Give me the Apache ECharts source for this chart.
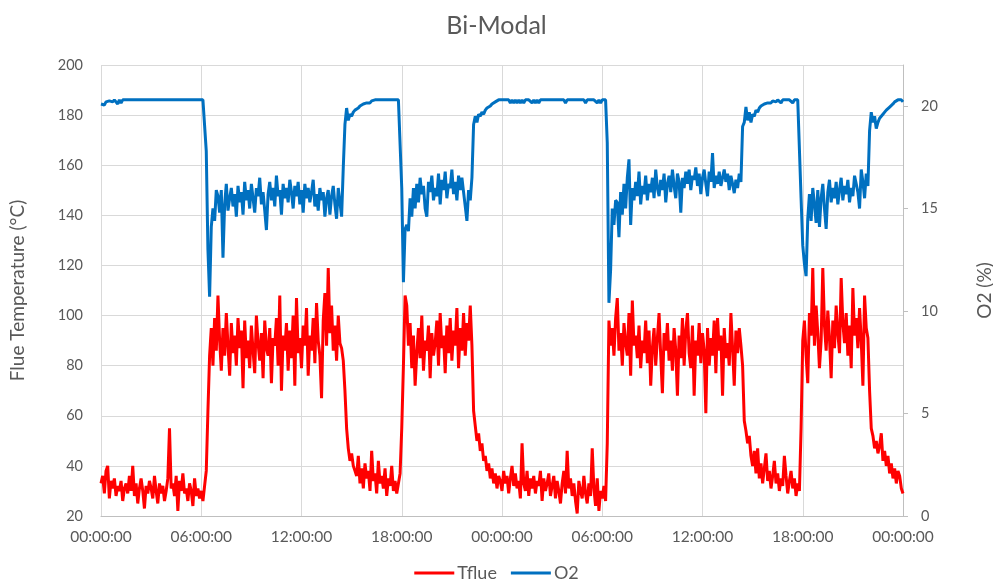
<!DOCTYPE html>
<html>
<head>
<meta charset="utf-8">
<title>Bi-Modal</title>
<script src="https://cdn.jsdelivr.net/npm/echarts@6/dist/echarts.min.js"></script>
<style>
  html, body { margin: 0; padding: 0; background: #ffffff; overflow: hidden; }
  #chart { width: 993px; height: 587px; }
</style>
</head>
<body>
<div id="chart"></div>
<script>
// Sampling interval of the logger, in hours (6 minutes)
const sampleStepHours = 0.1;

// Bottom axis labels, one per 6-hour gridline
const timeLabels = ['00:00:00', '06:00:00', '12:00:00', '18:00:00', '00:00:00',
                    '06:00:00', '12:00:00', '18:00:00', '00:00:00'];

// Flue gas temperature (°C), one reading per sample
const tflue = [
  33,36,29,38,40,27,34,31,35,28,
  32,30,34,26,31,33,29,36,30,40,
  28,33,25,31,35,30,23,32,29,34,
  31,27,36,30,25,33,29,32,26,30,
  35,55,31,33,28,36,22,34,30,37,
  29,31,26,33,30,24,35,28,31,27,
  30,26,32,38,62,84,95,80,99,86,
  108,90,78,95,84,101,88,76,97,85,
  92,80,99,87,94,71,98,83,90,79,
  96,86,77,100,89,82,93,75,98,87,
  84,95,73,91,88,99,80,108,70,92,
  86,97,78,94,83,100,72,107,85,91,
  79,96,88,103,76,92,86,99,81,105,
  90,84,67,98,109,88,119,93,104,86,
  96,82,100,89,87,82,70,55,47,42,
  45,40,38,36,44,33,39,31,41,35,
  38,30,46,34,37,29,42,33,36,31,
  39,28,35,32,40,30,34,29,33,37,
  55,80,108,104,88,97,79,92,72,85,
  95,83,100,78,90,86,96,75,93,84,
  89,98,80,101,87,92,77,96,85,99,
  82,94,88,103,79,95,86,101,84,97,
  90,104,88,62,56,50,53,46,49,42,
  44,38,41,35,39,33,37,31,36,34,
  30,38,33,36,29,35,40,32,37,31,
  34,27,49,33,30,38,28,35,31,36,
  29,34,32,38,26,35,30,33,37,28,
  32,36,27,34,30,25,33,38,29,46,
  31,35,28,33,26,21,34,30,27,36,
  29,25,33,28,47,31,24,35,22,30,
  27,32,26,49,98,88,95,84,99,107,
  86,93,80,97,89,84,101,76,106,88,
  92,83,96,79,90,85,98,81,94,72,
  87,95,80,91,101,84,69,93,86,97,
  82,90,78,95,86,68,92,83,99,80,
  94,101,85,79,96,68,90,84,97,81,
  93,86,61,95,80,91,84,98,77,99,
  86,92,68,95,83,89,80,101,87,72,
  94,85,95,88,80,58,54,49,52,44,
  40,46,37,47,35,41,33,39,45,34,
  38,31,36,42,33,37,30,35,32,44,
  36,29,34,38,31,35,28,33,30,55,
  90,98,84,73,101,92,119,88,104,93,
  79,90,119,96,86,102,91,75,98,87,
  104,93,85,115,97,89,101,84,96,79,
  111,92,99,87,103,90,72,108,95,91,
  70,55,52,47,50,45,48,53,42,46,
  40,44,37,41,35,39,33,38,36,31,
  29
];

// Flue gas oxygen (%), same samples
const o2 = [
  20.1,20.15,20.05,20.2,20.15,20.25,20.3,20.2,20.3,20.3,
  20.1,20.3,20.15,20.3,20.3,20.3,20.3,20.3,20.3,20.3,
  20.3,20.3,20.3,20.3,20.3,20.3,20.3,20.3,20.3,20.3,
  20.3,20.3,20.3,20.3,20.3,20.3,20.3,20.3,20.3,20.3,
  20.3,20.3,20.3,20.3,20.3,20.3,20.3,20.3,20.3,20.3,
  20.3,20.3,20.3,20.3,20.3,20.3,20.3,20.3,20.3,20.3,
  20.3,20.3,20.3,17.8,13.0,10.7,14.1,15.0,14.4,15.9,
  15.6,14.8,15.9,12.6,15.2,16.2,14.9,15.5,16.0,15.1,
  15.7,14.6,16.1,15.3,15.8,14.7,16.3,15.4,15.9,15.0,
  16.2,15.5,14.8,16.0,15.6,16.5,15.2,15.8,14.9,13.95,
  15.7,16.3,15.4,16.0,15.1,16.6,15.6,15.9,14.7,16.2,
  15.5,16.0,15.3,16.4,15.8,15.0,16.1,15.6,16.3,15.2,
  15.9,14.8,16.2,15.5,16.0,15.3,15.8,16.4,15.1,15.7,
  14.9,16.0,15.4,15.8,14.6,15.5,15.9,14.7,15.6,16.1,
  15.2,14.5,16.0,15.3,14.6,17.0,19.1,19.9,19.3,19.6,
  19.5,19.7,19.8,19.85,19.9,20.0,20.05,20.1,20.1,20.15,
  20.2,20.15,20.25,20.3,20.3,20.3,20.3,20.3,20.3,20.3,
  20.3,20.3,20.3,20.3,20.3,20.3,20.3,20.3,20.3,20.3,
  16.0,11.4,14.0,14.2,13.9,15.5,14.6,16.0,15.0,16.2,
  15.3,16.5,15.7,16.1,15.0,14.6,16.3,15.8,16.6,15.4,
  16.0,15.6,16.7,15.2,16.4,15.9,16.8,15.5,16.2,16.0,
  16.9,15.7,16.3,15.4,16.6,15.9,16.5,15.8,15.1,14.4,
  15.9,15.4,16.5,19.1,19.5,19.2,19.6,19.5,19.7,19.6,
  19.8,19.9,19.85,20.0,20.1,20.15,20.2,20.25,20.3,20.3,
  20.3,20.3,20.3,20.3,20.3,20.15,20.3,20.15,20.3,20.15,
  20.3,20.15,20.3,20.15,20.3,20.3,20.3,20.3,20.15,20.3,
  20.15,20.3,20.15,20.3,20.3,20.3,20.3,20.3,20.3,20.3,
  20.3,20.3,20.3,20.3,20.3,20.3,20.3,20.3,20.15,20.3,
  20.3,20.3,20.3,20.3,20.3,20.3,20.3,20.3,20.3,20.3,
  20.15,20.3,20.3,20.3,20.3,20.3,20.3,20.15,20.3,20.15,
  20.3,20.3,20.3,18.2,10.4,12.0,15.0,14.2,15.4,15.3,
  13.6,15.8,14.7,16.2,15.0,16.5,17.4,14.2,16.0,15.4,
  16.3,15.6,16.8,15.2,16.1,15.7,16.6,15.4,16.2,15.8,
  16.5,15.5,16.9,16.0,15.6,16.4,15.9,16.7,15.3,16.2,
  16.6,15.8,16.9,16.1,15.5,16.7,16.3,14.8,16.5,16.0,
  16.8,16.2,16.9,15.9,16.6,16.4,17.0,16.1,16.7,15.7,
  16.5,16.9,16.2,15.6,16.8,16.3,17.7,16.0,16.6,16.2,
  16.8,16.1,16.5,16.9,16.3,16.7,15.9,16.6,16.2,15.75,
  16.4,16.0,16.7,16.3,19.0,19.2,19.95,19.3,19.7,19.2,
  19.6,19.5,19.8,19.7,19.9,20.0,19.95,20.1,20.05,20.15,
  20.2,20.15,20.25,20.3,20.2,20.3,20.3,20.15,20.3,20.3,
  20.3,20.3,20.3,20.3,20.15,20.3,20.3,20.3,20.3,15.5,
  13.2,12.3,11.7,14.5,15.7,14.4,16.0,15.2,14.3,15.9,
  14.1,15.5,16.2,15.0,14.0,15.8,16.4,15.3,16.0,15.5,
  16.3,15.2,15.9,16.5,15.4,16.1,15.7,16.4,15.3,16.0,
  15.6,16.6,16.2,15.8,15.0,16.9,16.3,15.5,16.7,16.1,
  18.8,19.7,19.2,19.5,18.9,19.2,19.4,19.5,19.6,19.7,
  19.8,19.85,19.95,19.9,20.1,20.2,20.15,20.3,20.25,20.3,
  20.2
];

const FONT = 'Lato, "Open Sans", sans-serif';
const TEXT = '#595959';
const GRID = '#d9d9d9';
const AXIS = '#bfbfbf';

// Elapsed hours of each sample
const hours = tflue.map((_, i) => Math.round(i * sampleStepHours * 10) / 10);
const pairs = (vals) => vals.map((v, i) => [hours[i], v]);

const chart = echarts.init(document.getElementById('chart'), null, { renderer: 'canvas' });

chart.setOption({
  animation: false,
  backgroundColor: '#ffffff',
  textStyle: { fontFamily: FONT },
  title: {
    text: 'Bi-Modal',
    left: 'center',
    top: 8,
    textStyle: { fontFamily: FONT, fontSize: 25, fontWeight: 'normal', color: TEXT }
  },
  legend: {
    data: ['Tflue', 'O2'],
    bottom: 0,
    left: 'center',
    icon: 'rect',
    itemWidth: 40,
    itemHeight: 3,
    itemGap: 14,
    textStyle: { fontFamily: FONT, fontSize: 18, color: TEXT, padding: [0, 0, 0, -2] }
  },
  grid: { left: 101, right: 90, top: 65, bottom: 71, outerBoundsMode: 'none' },
  xAxis: {
    type: 'value',
    min: 0,
    max: 48,
    interval: 6,
    axisLine: { show: true, onZero: false, lineStyle: { color: AXIS, width: 1 } },
    axisTick: { show: false },
    axisLabel: {
      color: TEXT, fontFamily: FONT, fontSize: 15.5, margin: 13,
      formatter: (v) => timeLabels[Math.round(v / 6)]
    },
    splitLine: { show: true, lineStyle: { color: GRID, width: 1 } }
  },
  yAxis: [
    {
      type: 'value',
      min: 20,
      max: 200,
      interval: 20,
      name: 'Flue Temperature (°C)',
      nameLocation: 'middle',
      nameGap: 74,
      nameTextStyle: { color: TEXT, fontFamily: FONT, fontSize: 19 },
      axisLine: { show: false },
      axisTick: { show: false },
      axisLabel: { color: TEXT, fontFamily: FONT, fontSize: 14.5, margin: 18 },
      splitLine: { show: true, lineStyle: { color: GRID, width: 1 } }
    },
    {
      type: 'value',
      position: 'right',
      min: 0,
      max: 22,
      name: 'O2 (%)',
      nameLocation: 'middle',
      nameGap: 72,
      nameTextStyle: { color: TEXT, fontFamily: FONT, fontSize: 19 },
      axisLine: { show: true, lineStyle: { color: AXIS, width: 1 } },
      axisTick: { show: true, inside: false, length: 5, lineStyle: { color: AXIS },
                  customValues: [0, 5, 10, 15, 20] },
      axisLabel: { color: TEXT, fontFamily: FONT, fontSize: 14.5, margin: 18,
                   customValues: [0, 5, 10, 15, 20] },
      splitLine: { show: false }
    }
  ],
  series: [
    {
      name: 'Tflue',
      type: 'line',
      yAxisIndex: 0,
      symbol: 'none',
      showSymbol: false,
      color: '#FF0000',
      lineStyle: { color: '#FF0000', width: 3 },
      data: pairs(tflue)
    },
    {
      name: 'O2',
      type: 'line',
      yAxisIndex: 1,
      symbol: 'none',
      showSymbol: false,
      color: '#0070C0',
      lineStyle: { color: '#0070C0', width: 3 },
      data: pairs(o2)
    }
  ]
});
</script>
</body>
</html>
